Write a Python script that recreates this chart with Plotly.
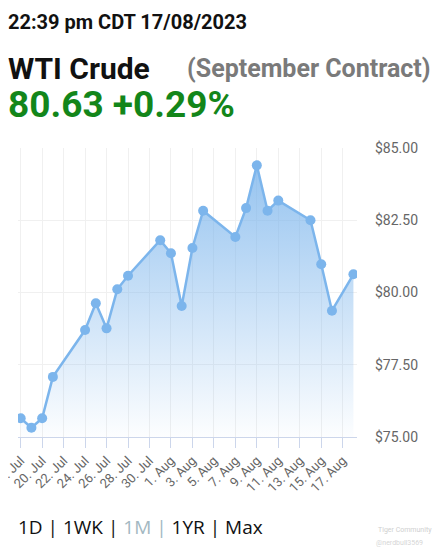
import plotly.graph_objects as go

# closing prices
dates = [
    "2023-07-18", "2023-07-19", "2023-07-20", "2023-07-21",
    "2023-07-24", "2023-07-25", "2023-07-26", "2023-07-27", "2023-07-28",
    "2023-07-31", "2023-08-01", "2023-08-02", "2023-08-03", "2023-08-04",
    "2023-08-07", "2023-08-08", "2023-08-09", "2023-08-10", "2023-08-11",
    "2023-08-14", "2023-08-15", "2023-08-16", "2023-08-18",
]
prices = [
    75.65, 75.32, 75.65, 77.08,
    78.70, 79.63, 78.76, 80.11, 80.58,
    81.81, 81.36, 79.53, 81.54, 82.83,
    81.92, 82.92, 84.40, 82.83, 83.18,
    82.50, 80.98, 79.37, 80.63,
]
y_ticks = [75, 77.5, 80, 82.5, 85]
y_ticktext = ["$75.00", "$77.50", "$80.00", "$82.50", "$85.00"]

# the page body adds an 8px margin, so work in window pixels and shift
OFF = 8
W, H = 444 - OFF, 553 - OFF
L, R, T, B = 18 - OFF, 357 - OFF, 148 - OFF, 437 - OFF

LINE = "#7cb5ec"
FONT = "Roboto, Arial, sans-serif"

fig = go.Figure()
fig.add_trace(go.Scatter(
    x=dates, y=prices,
    mode="lines+markers",
    line=dict(color=LINE, width=2.5),
    marker=dict(color=LINE, size=10),
    fill="tozeroy",
    fillgradient=dict(
        type="vertical",
        start=75, stop=85,
        colorscale=[[0, "rgba(124,181,236,0.02)"], [1, "rgba(124,181,236,0.85)"]],
    ),
    hoverinfo="skip",
    showlegend=False,
))


def px(x, y):
    x, y = x - OFF, y - OFF
    return (x - L) / (R - L), (B - y) / (B - T)


def label(text, x, y, size, color, bold=False, family=FONT):
    ax, ay = px(x, y)
    fig.add_annotation(
        x=ax, y=ay, xref="paper", yref="paper",
        xanchor="left", yanchor="middle", showarrow=False,
        borderpad=0, borderwidth=0,
        text=f"<b>{text}</b>" if bold else text,
        font=dict(family=family, size=size, color=color),
    )


label("22:39 pm CDT 17/08/2023", 8, 22, 20, "#111111", bold=True)
label("WTI Crude", 8, 68, 30, "#111111", bold=True)
label("(September Contract)", 187, 68, 25, "#7a7a7a", bold=True)
label("80.63 +0.29%", 8, 105, 37, "#13861a", bold=True)
label("1D | 1WK | <span style='color:#a3b8c2'>1M |</span> 1YR | Max",
      18, 527, 19, "#111111", family="Open Sans, sans-serif")
label("Tiger Community", 378, 530, 7, "#cfcfcf")
label("@nerdbull3569", 376, 543, 7, "#d6d6d6")

fig.update_layout(
    width=W, height=H,
    margin=dict(l=L, r=W - R, t=T, b=H - B, autoexpand=False),
    paper_bgcolor="white",
    plot_bgcolor="white",
    font=dict(family=FONT, color="#666666"),
    xaxis=dict(
        type="date",
        range=["2023-07-17 18:00", "2023-08-18 08:00"],
        tick0="2023-07-18", dtick=2 * 86400000,
        tickformat="%-d. %b",
        tickangle=-45,
        tickfont=dict(size=13, color="#666666"),
        ticklabeloverflow="allow",
        ticks="outside", ticklen=10, tickcolor="#ccd6eb",
        showgrid=True, gridcolor="#f0f0f0", gridwidth=1,
        showline=True, linecolor="#ccd6eb", linewidth=1,
        zeroline=False,
    ),
    yaxis=dict(
        range=[75, 85],
        side="right",
        tickvals=y_ticks, ticktext=y_ticktext,
        tickfont=dict(size=14, color="#666666"),
        ticks="", ticklabelstandoff=17,
        showgrid=True, gridcolor="#f0f0f0", gridwidth=1,
        zeroline=False,
    ),
)

fig.write_html("out.html")
